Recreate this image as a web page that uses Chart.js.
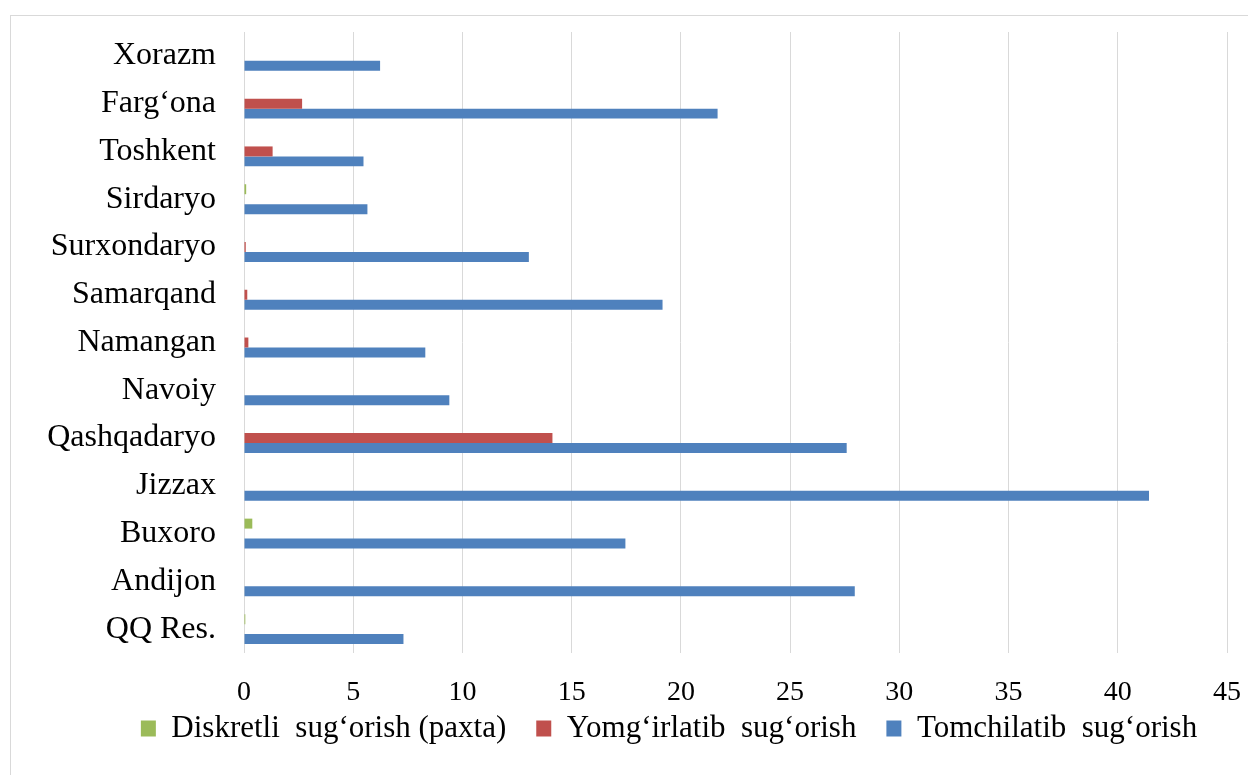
<!DOCTYPE html>
<html>
<head>
<meta charset="utf-8">
<script src="https://cdn.jsdelivr.net/npm/chart.js@4"></script>
<style>
    body { margin: 0; background: #fff; overflow: hidden; }
    #frame {
        position: absolute; left: 10px; top: 15px;
        width: 1317px; height: 800px;
        border: 1px solid #d9d9d9;
    }
</style>
</head>
<body>
<div id="frame"><canvas id="irrigation-chart"></canvas></div>
<script>
// Regions, top to bottom as in the picture
const regions = ["Xorazm", "Farg‘ona", "Toshkent", "Sirdaryo", "Surxondaryo", "Samarqand",
    "Namangan", "Navoiy", "Qashqadaryo", "Jizzax", "Buxoro", "Andijon", "QQ Res."];

// Series values
const diskretli = [0, 0, 0, 0.1, 0, 0, 0, 0, 0, 0, 0.38, 0, 0.06];
const yomgirlatib = [0, 2.66, 1.31, 0, 0.08, 0.15, 0.2, 0, 14.12, 0, 0, 0, 0];
const tomchilatib = [6.23, 21.68, 5.47, 5.65, 13.04, 19.16, 8.3, 9.4, 27.59, 41.43, 17.46, 27.96, 7.3];

const seriesNames = ["Diskretli  sug‘orish (paxta)", "Yomg‘irlatib  sug‘orish", "Tomchilatib  sug‘orish"];
const xTicks = [0, 5, 10, 15, 20, 25, 30, 35, 40, 45];

const serif = "'Liberation Serif', 'Times New Roman', serif";

// legend padding is big to get the wide spacing between items,
// so pull the legend back up close to the tick labels,
// and center it on the whole frame instead of the padded area
const moveLegend = {
    id: "moveLegend",
    afterLayout: function(chart) {
        const lg = chart.legend;
        lg.top -= 25;
        lg.bottom -= 25;
        lg.left += 50;
        lg.right += 50;
    }
};

const ctx = document.getElementById("irrigation-chart");
new Chart(ctx, {
    type: "bar",
    data: {
        labels: regions,
        datasets: [
            { label: seriesNames[0], data: diskretli, backgroundColor: "#9BBB59" },
            { label: seriesNames[1], data: yomgirlatib, backgroundColor: "#C0504D" },
            { label: seriesNames[2], data: tomchilatib, backgroundColor: "#4F81BD" }
        ]
    },
    options: {
        indexAxis: "y",
        responsive: true,
        maintainAspectRatio: false,
        animation: false,
        layout: { padding: { top: 16, right: 101, left: 0, bottom: 37 } },
        datasets: { bar: { categoryPercentage: 0.626, barPercentage: 1.0 } },
        scales: {
            x: {
                min: 0,
                max: 45,
                afterBuildTicks: function(scale) {
                    scale.ticks = xTicks.map(v => ({ value: v }));
                },
                afterFit: function(scale) { scale.height = 55; },
                grid: { color: "#d9d9d9", lineWidth: 1, drawTicks: false },
                border: { display: false },
                ticks: { color: "#000", padding: 23, font: { family: serif, size: 28 } }
            },
            y: {
                // fixed label column, and no extra room above/below for the labels
                afterFit: function(scale) {
                    scale.width = 233;
                    scale.paddingTop = 0;
                    scale.paddingBottom = 0;
                },
                grid: { display: false, drawTicks: false },
                border: { display: false },
                ticks: { color: "#000", padding: 28, autoSkip: false, font: { family: serif, size: 32 } }
            }
        },
        plugins: {
            tooltip: { enabled: false },
            legend: {
                position: "bottom",
                labels: {
                    color: "#000",
                    boxWidth: 15,
                    boxHeight: 16,
                    padding: 30,
                    font: { family: serif, size: 31 }
                }
            }
        }
    },
    plugins: [moveLegend]
});
</script>
</body>
</html>
